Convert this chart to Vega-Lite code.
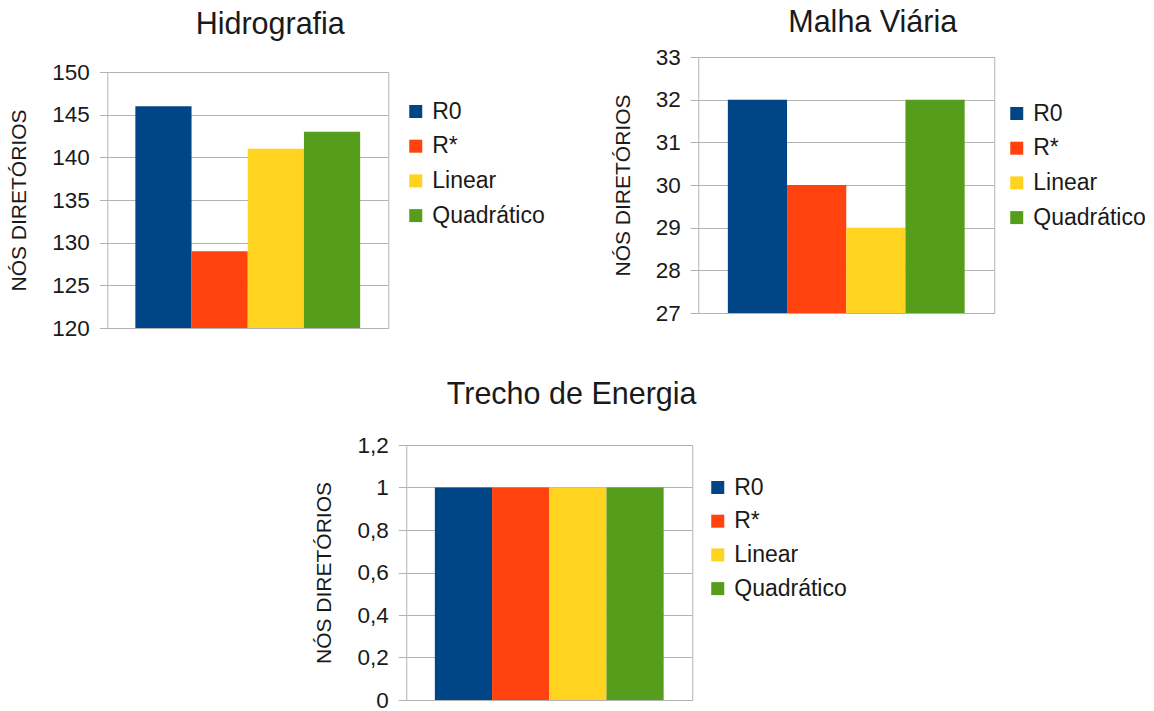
{
  "$schema": "https://vega.github.io/schema/vega-lite/v6.json",
  "padding": {"left": 8, "top": 7, "right": 0, "bottom": 0},
  "background": "white",
  "config": {
    "font": "Liberation Sans",
    "view": {"stroke": "#b3b3b3", "strokeWidth": 1},
    "axis": {
      "labelFont": "Liberation Sans", "labelFontSize": 22.5, "labelColor": "#1a1a1a",
      "titleFont": "Liberation Sans", "titleFontSize": 21, "titleFontWeight": "normal", "titleColor": "#1a1a1a",
      "gridColor": "#b3b3b3", "tickColor": "#b3b3b3", "tickSize": 8, "domain": false, "labelPadding": 10, "titlePadding": 22
    },
    "legend": {
      "labelFont": "Liberation Sans", "labelFontSize": 23, "labelColor": "#1a1a1a",
      "symbolType": "square", "symbolSize": 169, "symbolStrokeWidth": 0, "rowPadding": 10.7, "labelOffset": 5, "padding": 0
    },
    "title": {"font": "Liberation Sans", "fontSize": 30.5, "fontWeight": "normal", "color": "#1a1a1a", "anchor": "middle"}
  },
  "datasets": {
    "hidro": [
      {"metodo": "R0", "nos": 146},
      {"metodo": "R*", "nos": 129},
      {"metodo": "Linear", "nos": 141},
      {"metodo": "Quadrático", "nos": 143}
    ],
    "malha": [
      {"metodo": "R0", "nos": 32},
      {"metodo": "R*", "nos": 30},
      {"metodo": "Linear", "nos": 29},
      {"metodo": "Quadrático", "nos": 32}
    ],
    "energia": [
      {"metodo": "R0", "nos": 1},
      {"metodo": "R*", "nos": 1},
      {"metodo": "Linear", "nos": 1},
      {"metodo": "Quadrático", "nos": 1}
    ],
    "vazio": []
  },
  "center": true,
  "spacing": 39,
  "resolve": {"scale": {"x": "independent", "y": "independent", "color": "independent"}, "legend": {"color": "independent"}},
  "vconcat": [
    {
      "spacing": 65,
      "resolve": {"scale": {"x": "independent", "y": "independent", "color": "independent"}, "legend": {"color": "independent"}},
      "hconcat": [
        {
          "spacing": 2,
          "resolve": {"scale": {"x": "independent", "y": "independent", "color": "independent"}, "legend": {"color": "independent"}},
          "vconcat": [
            {
              "title": {"text": "Hidrografia", "offset": 17, "frame": "group", "dx": 22.5},
              "width": 281, "height": 1,
              "view": {"stroke": null},
              "data": {"name": "vazio"},
              "mark": {"type": "point"},
              "encoding": {}
            },
            {
              "width": 281, "height": 256,
              "data": {"name": "hidro"},
              "mark": {"type": "bar"},
              "encoding": {
                "x": {"field": "metodo", "type": "nominal", "sort": null, "scale": {"paddingInner": 0, "paddingOuter": 0.5}, "axis": null},
                "y": {"field": "nos", "type": "quantitative", "scale": {"domain": [120, 150], "zero": false, "nice": false},
                      "axis": {"title": "NÓS DIRETÓRIOS", "values": [120, 125, 130, 135, 140, 145, 150]}},
                "y2": {"datum": 120},
                "color": {"field": "metodo", "type": "nominal", "sort": null,
                          "scale": {"domain": ["R0", "R*", "Linear", "Quadrático"], "range": ["#004586", "#ff420e", "#ffd320", "#579d1c"]},
                          "legend": {"title": null, "orient": "none", "legendX": 297, "legendY": 28}}
              }
            }
          ]
        },
        {
          "title": {"text": "Malha Viária", "offset": 8, "frame": "bounds", "dx": -6.5},
          "width": 296, "height": 256,
          "data": {"name": "malha"},
          "mark": {"type": "bar"},
          "encoding": {
            "x": {"field": "metodo", "type": "nominal", "sort": null, "scale": {"paddingInner": 0, "paddingOuter": 0.5}, "axis": null},
            "y": {"field": "nos", "type": "quantitative", "scale": {"domain": [27, 33], "zero": false, "nice": false},
                  "axis": {"title": "NÓS DIRETÓRIOS", "values": [27, 28, 29, 30, 31, 32, 33]}},
            "y2": {"datum": 27},
            "color": {"field": "metodo", "type": "nominal", "sort": null,
                      "scale": {"domain": ["R0", "R*", "Linear", "Quadrático"], "range": ["#004586", "#ff420e", "#ffd320", "#579d1c"]},
                      "legend": {"title": null, "orient": "none", "legendX": 307, "legendY": 45}}
          }
        }
      ]
    },
    {
      "title": {"text": "Trecho de Energia", "offset": 24, "frame": "bounds", "dx": -9},
      "width": 286, "height": 255,
      "data": {"name": "energia"},
      "mark": {"type": "bar"},
      "encoding": {
        "x": {"field": "metodo", "type": "nominal", "sort": null, "scale": {"paddingInner": 0, "paddingOuter": 0.5}, "axis": null},
        "y": {"field": "nos", "type": "quantitative", "scale": {"domain": [0, 1.2], "nice": false},
              "axis": {"title": "NÓS DIRETÓRIOS", "values": [0, 0.2, 0.4, 0.6, 0.8, 1, 1.2], "labelExpr": "replace(format(datum.value, '~g'), '.', ',')"}},
        "color": {"field": "metodo", "type": "nominal", "sort": null,
                  "scale": {"domain": ["R0", "R*", "Linear", "Quadrático"], "range": ["#004586", "#ff420e", "#ffd320", "#579d1c"]},
                  "legend": {"title": null, "orient": "none", "legendX": 300, "legendY": 31, "rowPadding": 9.7}}
      }
    }
  ]
}
